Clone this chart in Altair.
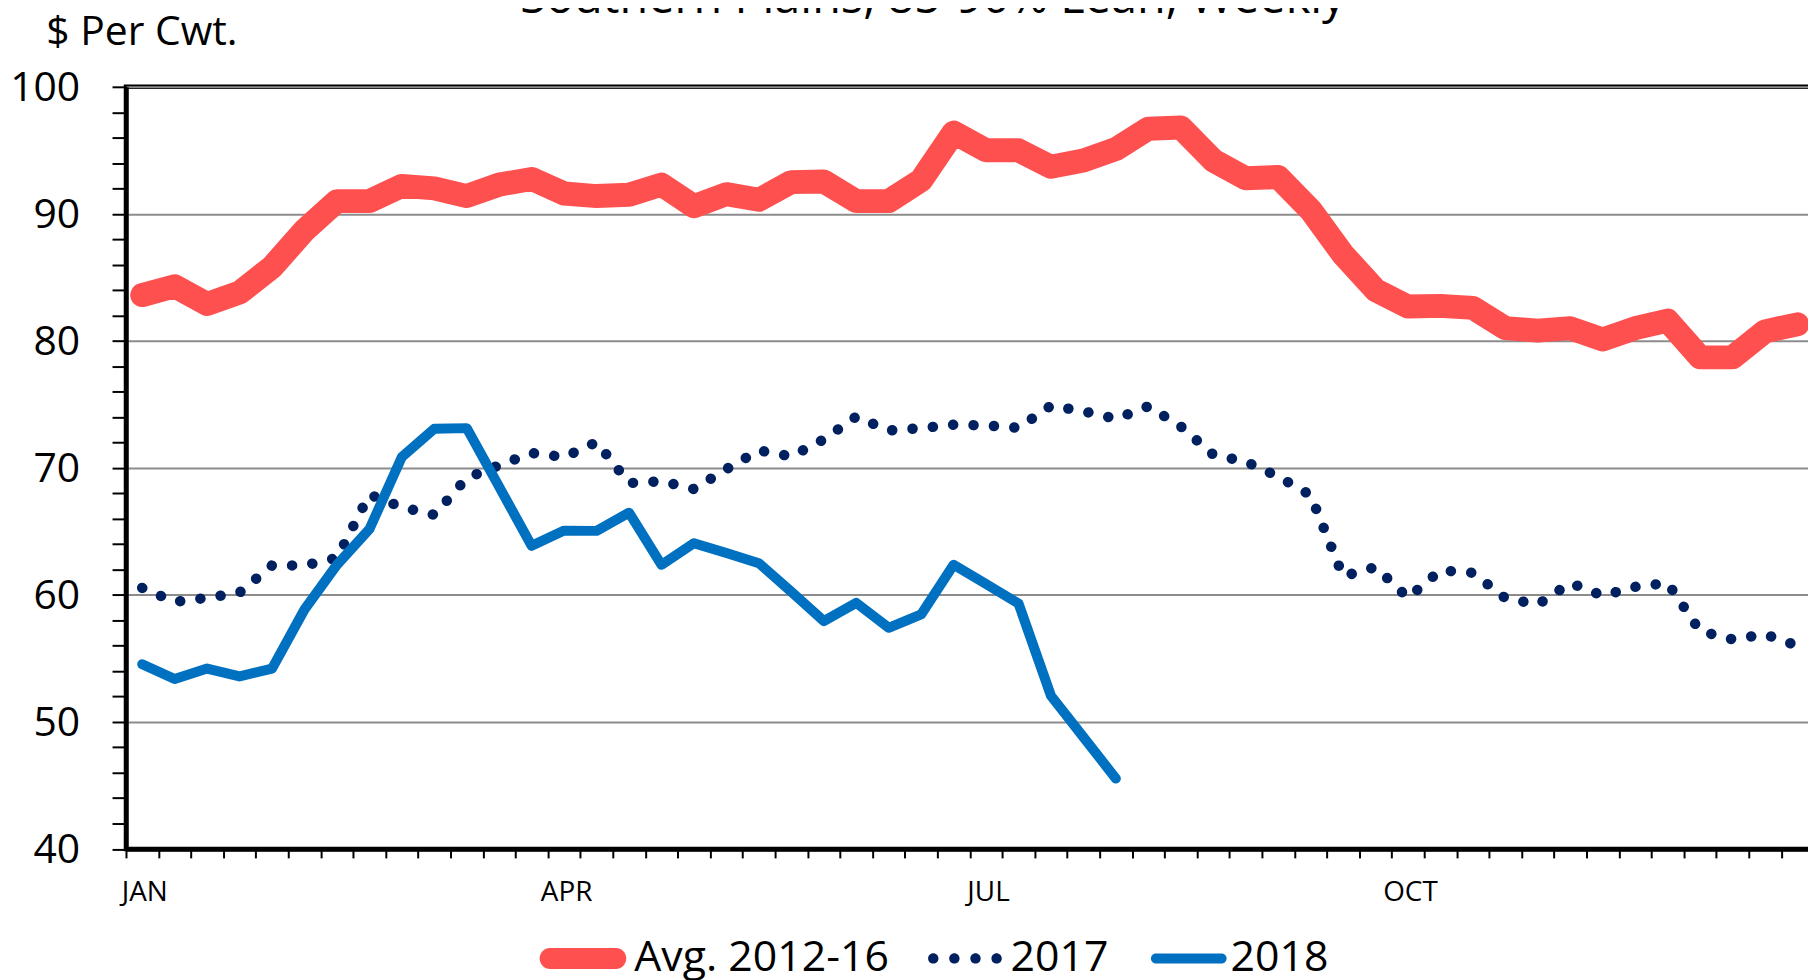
import altair as alt
import pandas as pd

# ---------------- data ----------------
title_text = "Southern Plains, 85-90% Lean, Weekly"
y_title = "$ Per Cwt."
series_names = ["Avg. 2012-16", "2017", "2018"]
series_colors = ["#FF5050", "#002060", "#0070C0"]
month_labels = ["JAN", "APR", "JUL", "OCT"]
month_weeks = [0, 13, 26, 39]

avg_2012_16 = [83.6, 84.3, 82.9, 83.8, 85.8, 88.7, 91.0, 91.0, 92.2, 92.0,
               91.4, 92.3, 92.75, 91.6, 91.4, 91.5, 92.3, 90.6, 91.55, 91.1,
               92.5, 92.55, 91.0, 91.0, 92.65, 96.4, 95.0, 95.0, 93.7, 94.2,
               95.1, 96.7, 96.8, 94.2, 92.8, 92.9, 90.3, 86.8, 84.0, 82.7,
               82.75, 82.6, 81.0, 80.8, 81.0, 80.1, 81.0, 81.6, 78.7, 78.7,
               80.75, 81.3]
prices_2017 = [60.55, 59.45, 59.77, 60.18, 62.32, 62.32, 62.9, 67.9, 66.9, 66.3,
               69.2, 70.2, 71.17, 70.85, 72.03, 68.8, 68.95, 68.33, 69.9, 71.38,
               70.9, 72.24, 74.04, 72.94, 73.13, 73.4, 73.34, 73.15, 74.9, 74.46,
               73.86, 74.85, 73.26, 71.04, 70.49, 69.32, 67.85, 61.46, 62.19, 59.77,
               61.93, 61.74, 59.74, 59.24, 60.94, 59.94, 60.63, 60.94, 57.15, 56.5,
               56.9, 56.0]
prices_2018 = [54.54, 53.37, 54.2, 53.58, 54.2, 58.85, 62.37, 65.17, 70.85, 73.08,
               73.13, 68.5, 63.86, 65.06, 65.04, 66.47, 62.37, 64.07, 63.29, 62.5,
               60.24, 57.94, 59.37, 57.41, 58.46, 62.37, 60.86, 59.32, 52.06, 48.8,
               45.54]

rows = []
for name, vals in zip(series_names, [avg_2012_16, prices_2017, prices_2018]):
    for i, v in enumerate(vals):
        rows.append({"series": name, "week": i + 0.5, "price": v})
df = pd.DataFrame(rows)

# ---------------- layout / style ----------------
FONT = "Open Sans"
W = 1695.2
H = 765.5
PAD_L, PAD_T = 118.5, 77
SVG_W, SVG_H = 1808, 972

x_scale = alt.Scale(domain=[0, 52], nice=False, zero=False)
y_scale = alt.Scale(domain=[40, 100], nice=False, zero=False)

label_expr = " : ".join(
    f"datum.value === {w} ? '{m}'" for w, m in zip(month_weeks, month_labels)
) + " : ''"

x_axis = alt.Axis(
    values=list(range(0, 53)), tickCount=200, format="d", labelExpr=label_expr,
    labelOffset=W / 52 / 2 + 2,
    labelFont=FONT, labelFontSize=28, labelColor="black", labelPadding=20.5,
    labelOverlap=False, labelFlush=False, labelBound=False,
    tickSize=9, tickWidth=2, tickColor="black",
    domainColor="black", domainWidth=4.5, grid=False, title=None,
)
y_axis = alt.Axis(
    values=list(range(40, 101, 2)), tickCount=200, format="d",
    labelExpr="datum.value % 10 === 0 ? datum.label : ''",
    labelFont=FONT, labelFontSize=41, labelColor="black", labelPadding=32.5,
    labelOffset=2, labelOverlap=False, labelFlush=False,
    tickSize=14, tickWidth=2, tickColor="black",
    domainColor="black", domainWidth=4.5,
    grid=True, gridColor="#8c8c8c", gridWidth=2,
    gridOpacity={"condition": {"test": "datum.value % 10 === 0", "value": 1}, "value": 0},
    title=y_title, titleAngle=0, titleAlign="left", titleBaseline="alphabetic",
    titleX=-80.5, titleY=-42.5, titleFont=FONT, titleFontSize=41,
    titleFontWeight="normal", titleColor="black",
)

X = alt.X("week:Q", scale=x_scale)
Y = alt.Y("price:Q", scale=y_scale)

avg_line = alt.Chart(df).transform_filter(
    alt.datum.series == series_names[0]
).mark_line(
    color=series_colors[0], strokeWidth=24, strokeCap="round", strokeJoin="round"
).encode(x=alt.X("week:Q", scale=x_scale, axis=x_axis),
         y=alt.Y("price:Q", scale=y_scale, axis=y_axis))

line_2017 = alt.Chart(df).transform_filter(
    alt.datum.series == series_names[1]
).mark_line(
    color=series_colors[1], strokeWidth=10.5, strokeDash=[0.1, 20.4],
    strokeCap="round", strokeJoin="round"
).encode(x=X, y=Y)

line_2018 = alt.Chart(df).transform_filter(
    alt.datum.series == series_names[2]
).mark_line(
    color=series_colors[2], strokeWidth=10, strokeCap="round", strokeJoin="round"
).encode(x=X, y=Y)

title_layer = alt.Chart(pd.DataFrame({"label": [title_text]})).mark_text(
    font=FONT, fontSize=47, color="black", align="center", baseline="alphabetic"
).encode(text="label:N", x=alt.value(810.5), y=alt.value(-74))

# legend symbols (unit box -1..1, scaled by sqrt(size)/2)
red_sym = ("M -0.7586 -0.2414 L 0.7586 -0.2414 A 0.2414 0.2414 0 0 1 0.7586 0.2414 "
           "L -0.7586 0.2414 A 0.2414 0.2414 0 0 1 -0.7586 -0.2414 Z")
r = 0.1195
dot_parts = []
for c in [0.862, 0.375, -0.113, -0.600]:
    dot_parts.append(f"M {c - r:.4f} 0 A {r} {r} 0 1 0 {c + r:.4f} 0 "
                     f"A {r} {r} 0 1 0 {c - r:.4f} 0 Z")
dot_sym = " ".join(dot_parts)
blue_sym = ("M -0.540 -0.115 L 0.977 -0.115 A 0.115 0.115 0 0 1 0.977 0.115 "
            "L -0.540 0.115 A 0.115 0.115 0 0 1 -0.540 -0.115 Z")

legend = alt.Legend(
    orient="none", legendX=415.5, legendY=832, direction="horizontal",
    title=None, labelFont=FONT, labelFontSize=43, labelColor="black",
    labelLimit=1000, labelOffset=8, symbolSize=7569, symbolStrokeWidth=0,
    symbolOpacity=1, columnPadding=27, padding=0, gridAlign="none",
)

legend_layer = alt.Chart(df).transform_filter("false").mark_point(
    filled=True, opacity=1, strokeWidth=0
).encode(
    x=X, y=Y,
    color=alt.Color("series:N", scale=alt.Scale(domain=series_names, range=series_colors),
                    legend=legend),
    shape=alt.Shape("series:N", scale=alt.Scale(domain=series_names,
                                                range=[red_sym, dot_sym, blue_sym]),
                    legend=legend),
)

chart = alt.layer(avg_line, line_2017, line_2018, title_layer, legend_layer).properties(
    width=W, height=H,
    autosize=alt.AutoSizeParams(type="none"),
    padding={"left": PAD_L, "top": PAD_T, "right": SVG_W - PAD_L - W,
             "bottom": SVG_H - PAD_T - H},
    background="white",
).configure_view(stroke="black", strokeWidth=4.5)

chart.save("out.html", embed_options={"renderer": "svg", "actions": False})
